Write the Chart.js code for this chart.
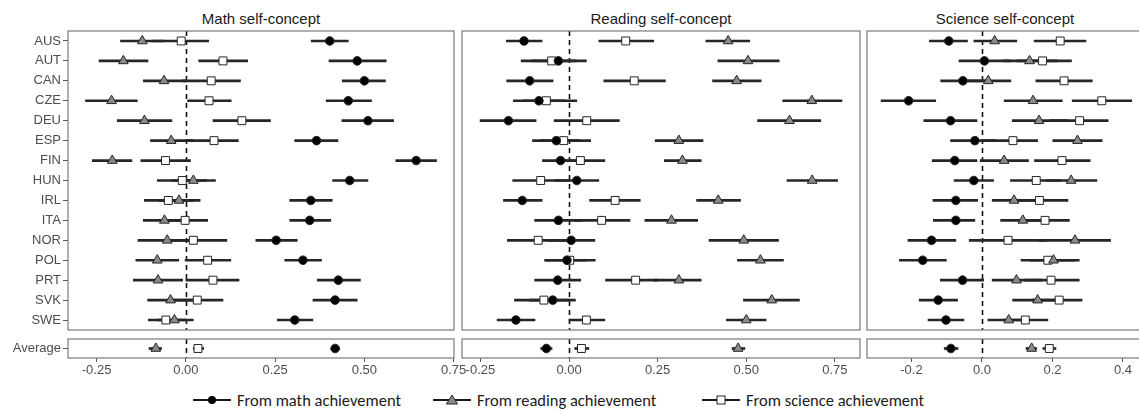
<!DOCTYPE html>
<html>
<head>
<meta charset="utf-8">
<script src="https://cdn.jsdelivr.net/npm/chart.js@4.4.1/dist/chart.umd.min.js"></script>
<style>
body { margin:0; width:1139px; height:412px; overflow:hidden; background:#fff; position:relative; font-family:'Liberation Sans', Arial, sans-serif; }
canvas { position:absolute; }
.title { position:absolute; top:11px; font-size:15px; line-height:15px; color:#1a1a1a; transform:translateX(-50%); white-space:nowrap; }
.lg { position:absolute; top:391px; height:18px; display:flex; align-items:center; font-family:Carlito, Lato, sans-serif; font-size:16.5px; color:#1a1a1a; white-space:nowrap; }
.lg svg { margin-right:6px; }
</style>
</head>
<body>
<div class="title" style="left:261px">Math self-concept</div>
<div class="title" style="left:661px">Reading self-concept</div>
<div class="title" style="left:1005px">Science self-concept</div>

<div class="lg" style="left:193px"><svg width="38" height="14"><line x1="0" y1="7" x2="38" y2="7" stroke="#1a1a1a" stroke-width="2"/><circle cx="19" cy="7" r="4" fill="#000"/></svg><span>From math achievement</span></div>
<div class="lg" style="left:433px"><svg width="38" height="14"><line x1="0" y1="7" x2="38" y2="7" stroke="#1a1a1a" stroke-width="2"/><polygon points="19,2 24.5,11 13.5,11" fill="#8a8a8a" stroke="#262626" stroke-width="1"/></svg><span>From reading achievement</span></div>
<div class="lg" style="left:702px"><svg width="38" height="14"><line x1="0" y1="7" x2="38" y2="7" stroke="#1a1a1a" stroke-width="2"/><rect x="15" y="3" width="8" height="8" fill="#fff" stroke="#262626" stroke-width="1"/></svg><span>From science achievement</span></div>

<script>
// rows: 15 countries, last entry of every series is the Average
var countries = ['AUS','AUT','CAN','CZE','DEU','ESP','FIN','HUN','IRL','ITA','NOR','POL','PRT','SVK','SWE'];
var avgLabel = ['Average'];

// Math self-concept
var mathFromMath   = [0.403,0.480,0.500,0.455,0.510,0.366,0.645,0.459,0.350,0.347,0.253,0.328,0.427,0.418,0.305, 0.418];
var mathFromMathLo = [0.351,0.401,0.438,0.393,0.437,0.305,0.588,0.411,0.291,0.291,0.196,0.277,0.368,0.356,0.256, 0.407];
var mathFromMathHi = [0.455,0.561,0.559,0.520,0.582,0.426,0.702,0.510,0.410,0.406,0.312,0.380,0.489,0.480,0.356, 0.431];
var mathFromRead   = [-0.122,-0.175,-0.061,-0.208,-0.116,-0.041,-0.206,0.021,-0.019,-0.060,-0.052,-0.080,-0.078,-0.043,-0.032, -0.084];
var mathFromReadLo = [-0.183,-0.243,-0.119,-0.281,-0.192,-0.099,-0.262,-0.040,-0.077,-0.119,-0.134,-0.140,-0.147,-0.107,-0.080, -0.103];
var mathFromReadHi = [-0.061,-0.106,0.002,-0.136,-0.039,0.021,-0.151,0.083,0.040,0.000,0.031,-0.020,-0.009,0.021,0.021, -0.068];
var mathFromSci    = [-0.013,0.104,0.071,0.065,0.157,0.079,-0.057,-0.010,-0.049,-0.002,0.021,0.061,0.076,0.032,-0.056, 0.034];
var mathFromSciLo  = [-0.092,0.036,-0.009,0.005,0.076,0.000,-0.126,-0.080,-0.116,-0.064,-0.044,-0.002,0.000,-0.035,-0.105, 0.021];
var mathFromSciHi  = [0.064,0.173,0.153,0.127,0.237,0.147,0.013,0.058,0.021,0.061,0.115,0.126,0.149,0.104,0.000, 0.050];

// Reading self-concept
var readFromMath   = [-0.127,-0.030,-0.111,-0.085,-0.171,-0.036,-0.024,0.022,-0.132,-0.030,0.006,-0.006,-0.032,-0.046,-0.150, -0.064];
var readFromMathLo = [-0.177,-0.105,-0.176,-0.157,-0.251,-0.103,-0.075,-0.040,-0.185,-0.097,-0.060,-0.065,-0.097,-0.111,-0.203, -0.080];
var readFromMathHi = [-0.076,0.049,-0.045,-0.010,-0.093,0.030,0.030,0.084,-0.076,0.035,0.073,0.050,0.033,0.018,-0.096, -0.048];
var readFromRead   = [0.449,0.505,0.473,0.685,0.622,0.310,0.320,0.686,0.421,0.289,0.493,0.540,0.310,0.572,0.500, 0.477];
var readFromReadLo = [0.386,0.420,0.405,0.603,0.532,0.243,0.269,0.615,0.360,0.214,0.395,0.475,0.240,0.492,0.444, 0.460];
var readFromReadHi = [0.510,0.593,0.542,0.770,0.710,0.378,0.373,0.758,0.484,0.363,0.591,0.605,0.373,0.650,0.556, 0.496];
var readFromSci    = [0.160,-0.049,0.184,-0.064,0.050,-0.015,0.032,-0.080,0.130,0.092,-0.087,0.002,0.188,-0.071,0.049, 0.035];
var readFromSciLo  = [0.084,-0.135,0.098,-0.130,-0.042,-0.080,-0.040,-0.159,0.058,0.016,-0.174,-0.069,0.103,-0.154,0.000, 0.016];
var readFromSciHi  = [0.239,0.020,0.272,0.022,0.142,0.061,0.101,0.000,0.201,0.172,0.000,0.074,0.250,0.000,0.101, 0.056];

// Science self-concept
var sciFromMath    = [-0.094,0.007,-0.054,-0.208,-0.089,-0.020,-0.077,-0.023,-0.074,-0.074,-0.143,-0.168,-0.055,-0.124,-0.102, -0.088];
var sciFromMathLo  = [-0.149,-0.065,-0.117,-0.286,-0.165,-0.089,-0.141,-0.079,-0.139,-0.138,-0.210,-0.234,-0.118,-0.178,-0.153, -0.107];
var sciFromMathHi  = [-0.041,0.080,0.010,-0.131,-0.014,0.040,-0.014,0.033,-0.012,-0.020,-0.074,-0.101,0.005,-0.069,-0.051, -0.068];
var sciFromRead    = [0.036,0.135,0.018,0.145,0.162,0.271,0.063,0.253,0.091,0.116,0.264,0.203,0.098,0.158,0.076, 0.141];
var sciFromReadLo  = [-0.023,0.060,-0.040,0.063,0.086,0.201,-0.005,0.183,0.029,0.053,0.162,0.137,0.029,0.087,0.017, 0.125];
var sciFromReadHi  = [0.099,0.213,0.082,0.228,0.243,0.341,0.132,0.326,0.150,0.176,0.365,0.276,0.170,0.228,0.135, 0.155];
var sciFromSci     = [0.222,0.172,0.233,0.340,0.277,0.088,0.227,0.154,0.163,0.179,0.074,0.187,0.196,0.219,0.123, 0.191];
var sciFromSciLo   = [0.148,0.099,0.153,0.256,0.193,0.000,0.149,0.081,0.091,0.122,-0.036,0.111,0.122,0.142,0.061, 0.173];
var sciFromSciHi   = [0.295,0.254,0.313,0.425,0.358,0.158,0.307,0.223,0.244,0.248,0.183,0.264,0.276,0.284,0.187, 0.210];

var mathTicks = { min: -0.33, max: 0.751, step: 0.25, digits: 2 };
var readTicks = { min: -0.302, max: 0.821, step: 0.25, digits: 2 };
var sciTicks  = { min: -0.326, max: 0.454, step: 0.2, digits: 1 };

var INK = '#262626';
var styles = [
  { pointStyle: 'circle',   r: 4.3, fill: '#000000' },
  { pointStyle: 'triangle', r: 5.6, fill: '#8a8a8a' },
  { pointStyle: 'rect',     r: 5.6, fill: '#ffffff' }
];

// dashed zero line + panel frame
var framePlugin = {
  id: 'frame',
  beforeDatasetsDraw: function(chart) {
    var ctx = chart.ctx, a = chart.chartArea;
    var px = Math.round(chart.scales.x.getPixelForValue(0)) + 0.5;
    ctx.save();
    ctx.strokeStyle = '#111';
    ctx.lineWidth = 1.6;
    ctx.setLineDash([5, 4]);
    ctx.beginPath();
    ctx.moveTo(px, a.top);
    ctx.lineTo(px, a.bottom);
    ctx.stroke();
    ctx.restore();
  },
  afterDraw: function(chart) {
    var ctx = chart.ctx, a = chart.chartArea;
    ctx.save();
    ctx.strokeStyle = '#7a7a7a';
    ctx.lineWidth = 1.2;
    ctx.strokeRect(a.left, a.top, a.right - a.left, a.bottom - a.top);
    ctx.restore();
  }
};

// padding big enough that Chart.js never adds its own label padding
var PX = 18, PY = 10;

function makePanel(L, R, T, B, yw, xh, labels, from, to, series, ticks) {
  var canvas = document.createElement('canvas');
  canvas.width = R - L + yw + 2 * PX;
  canvas.height = B - T + xh + 2 * PY;
  canvas.style.left = (L - yw - PX) + 'px';
  canvas.style.top = (T - PY) + 'px';
  document.body.appendChild(canvas);

  var datasets = [];
  series.forEach(function(s, k) {
    var st = styles[k];
    datasets.push({
      type: 'line',
      indexAxis: 'y',
      data: s[0].slice(from, to),
      showLine: false,
      pointStyle: st.pointStyle,
      pointRadius: st.r,
      pointHoverRadius: st.r,
      pointBackgroundColor: st.fill,
      pointBorderColor: INK,
      pointBorderWidth: 1,
      order: 0,
      clip: false
    });
    datasets.push({
      type: 'bar',
      indexAxis: 'y',
      data: s[1].slice(from, to).map(function(lo, i) { return [lo, s[2][from + i]]; }),
      backgroundColor: INK,
      barThickness: 2,
      grouped: false,
      order: 1
    });
  });

  return new Chart(canvas, {
    type: 'bar',
    data: { labels: labels, datasets: datasets },
    options: {
      indexAxis: 'y',
      responsive: false,
      animation: false,
      layout: { padding: { left: PX, right: PX, top: PY, bottom: PY } },
      plugins: { legend: { display: false }, tooltip: { enabled: false } },
      scales: {
        x: {
          type: 'linear',
          min: ticks.min,
          max: ticks.max,
          display: xh > 0,
          ticks: {
            stepSize: ticks.step,
            includeBounds: false,
            autoSkip: false,
            maxRotation: 0,
            padding: 1,
            color: '#4d4d4d',
            font: { family: "'Liberation Sans', Arial", size: 13 },
            callback: function(v) { return (Math.abs(v) < 1e-9 ? 0 : v).toFixed(ticks.digits); }
          },
          grid: { drawOnChartArea: false, drawTicks: true, tickLength: 4, color: '#555' },
          border: { display: false },
          afterFit: function(s) { s.height = xh; }
        },
        y: {
          type: 'category',
          offset: true,
          display: yw > 0,
          ticks: {
            padding: 2,
            color: '#4d4d4d',
            font: { family: "'Liberation Sans', Arial", size: 13 }
          },
          grid: { drawOnChartArea: false, drawTicks: true, tickLength: 5, offset: false, color: '#555' },
          border: { display: false },
          afterFit: function(s) { s.width = yw; }
        }
      }
    },
    plugins: [framePlugin]
  });
}

var mathSeries = [[mathFromMath, mathFromMathLo, mathFromMathHi], [mathFromRead, mathFromReadLo, mathFromReadHi], [mathFromSci, mathFromSciLo, mathFromSciHi]];
var readSeries = [[readFromMath, readFromMathLo, readFromMathHi], [readFromRead, readFromReadLo, readFromReadHi], [readFromSci, readFromSciLo, readFromSciHi]];
var sciSeries  = [[sciFromMath, sciFromMathLo, sciFromMathHi], [sciFromRead, sciFromReadLo, sciFromReadHi], [sciFromSci, sciFromSciLo, sciFromSciHi]];

var n = countries.length;
// main panels
makePanel(68, 454, 31, 330, 68, 0, countries, 0, n, mathSeries, mathTicks);
makePanel(462, 860, 31, 330, 0, 0, countries, 0, n, readSeries, readTicks);
makePanel(867, 1142, 31, 330, 0, 0, countries, 0, n, sciSeries, sciTicks);
// average strips
makePanel(68, 454, 339, 358, 68, 22, avgLabel, n, n + 1, mathSeries, mathTicks);
makePanel(462, 860, 339, 358, 0, 22, avgLabel, n, n + 1, readSeries, readTicks);
makePanel(867, 1142, 339, 358, 0, 22, avgLabel, n, n + 1, sciSeries, sciTicks);
</script>
</body>
</html>
